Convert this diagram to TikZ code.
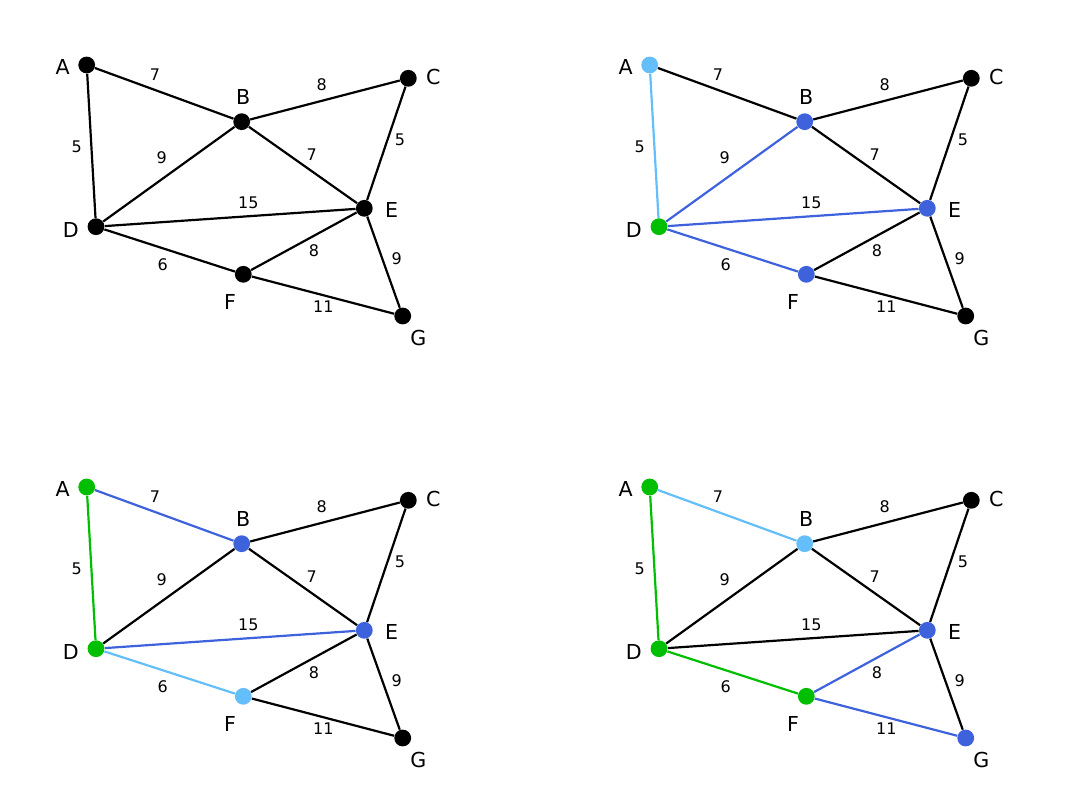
\documentclass[tikz,border=0pt]{standalone}
\usepackage{fontspec}
\setmainfont{DejaVu Sans}
\usetikzlibrary{positioning}
\definecolor{visited}{RGB}{0,190,0}
\definecolor{frontier}{RGB}{62,98,220}
\definecolor{picked}{RGB}{100,190,250}
\tikzset{
  vertex/.style={circle, fill=black, inner sep=0pt, minimum size=8.4pt},
  vname/.style={font=\fontsize{10.3}{12}\selectfont, inner sep=0pt},
  weight/.style={font=\fontsize{8}{9}\selectfont, text=black, inner sep=0pt},
  edge/.style={line width=1.1pt, black},
  % colouring per panel, black unless a scope says otherwise
  col/A/.style={}, col/B/.style={}, col/C/.style={}, col/D/.style={},
  col/E/.style={}, col/F/.style={}, col/G/.style={},
  col/AB/.style={}, col/AD/.style={}, col/BC/.style={}, col/BD/.style={},
  col/BE/.style={}, col/CE/.style={}, col/DE/.style={}, col/DF/.style={},
  col/EF/.style={}, col/EG/.style={}, col/FG/.style={}
}
\newcommand{\primgraph}{%
  \node[vertex,col/A] (A) at (86.7,65) {};
  \node[vertex,col/B] (B) at (241.7,121.7) {};
  \node[vertex,col/C] (C) at (408.3,78.3) {};
  \node[vertex,col/D] (D) at (96,226.7) {};
  \node[vertex,col/E] (E) at (364.3,208.3) {};
  \node[vertex,col/F] (F) at (243.3,274.3) {};
  \node[vertex,col/G] (G) at (402.7,316) {};
  \node[vname] (A-name) at ([shift={(-24,1.7)}]A) {A};
  \node[vname] (B-name) at ([shift={(1.6,-25)}]B) {B};
  \node[vname] (C-name) at ([shift={(25,-1.6)}]C) {C};
  \node[vname] (D-name) at ([shift={(-25.3,3.3)}]D) {D};
  \node[vname] (E-name) at ([shift={(27.4,1.7)}]E) {E};
  \node[vname] (F-name) at ([shift={(-13.3,27.4)}]F) {F};
  \node[vname] (G-name) at ([shift={(15.6,22.3)}]G) {G};
  \draw[edge,col/AB] (A) -- (B) node[weight] (w-AB) at (155,75) {7};
  \draw[edge,col/AD] (A) -- (D) node[weight] (w-AD) at (76.7,146.7) {5};
  \draw[edge,col/BC] (B) -- (C) node[weight] (w-BC) at (321.7,85) {8};
  \draw[edge,col/BD] (D) -- (B) node[weight] (w-BD) at (161.7,157.3) {9};
  \draw[edge,col/BE] (B) -- (E) node[weight] (w-BE) at (311.7,155) {7};
  \draw[edge,col/CE] (C) -- (E) node[weight] (w-CE) at (400,140) {5};
  \draw[edge,col/DE] (D) -- (E) node[weight] (w-DE) at (248.3,202.3) {15};
  \draw[edge,col/DF] (D) -- (F) node[weight] (w-DF) at (162.7,265) {6};
  \draw[edge,col/EF] (F) -- (E) node[weight] (w-EF) at (314,250.7) {8};
  \draw[edge,col/EG] (E) -- (G) node[weight] (w-EG) at (396.7,258.3) {9};
  \draw[edge,col/FG] (F) -- (G) node[weight] (w-FG) at (323.3,306.7) {11};
}
\begin{document}
\begin{tikzpicture}[x=0.5pt, y=-0.5pt]
\useasboundingbox (0,0) rectangle (1086,801);
% start
\begin{scope}[name prefix=s1-]
  \primgraph
\end{scope}
% step 1
\begin{scope}[name prefix=s2-, shift={(563,0)},
  col/A/.style={fill=picked}, col/D/.style={fill=visited},
  col/B/.style={fill=frontier}, col/E/.style={fill=frontier}, col/F/.style={fill=frontier},
  col/AD/.style={picked}, col/BD/.style={frontier}, col/DE/.style={frontier}, col/DF/.style={frontier}]
  \primgraph
\end{scope}
% step 2
\begin{scope}[name prefix=s3-, shift={(0,422)},
  col/A/.style={fill=visited}, col/D/.style={fill=visited},
  col/B/.style={fill=frontier}, col/E/.style={fill=frontier}, col/F/.style={fill=picked},
  col/AD/.style={visited}, col/AB/.style={frontier}, col/DE/.style={frontier}, col/DF/.style={picked}]
  \primgraph
\end{scope}
% step 3
\begin{scope}[name prefix=s4-, shift={(563,422)},
  col/A/.style={fill=visited}, col/D/.style={fill=visited}, col/F/.style={fill=visited},
  col/B/.style={fill=picked}, col/E/.style={fill=frontier}, col/G/.style={fill=frontier},
  col/AD/.style={visited}, col/DF/.style={visited}, col/AB/.style={picked},
  col/EF/.style={frontier}, col/FG/.style={frontier}]
  \primgraph
\end{scope}
\end{tikzpicture}
\end{document}
